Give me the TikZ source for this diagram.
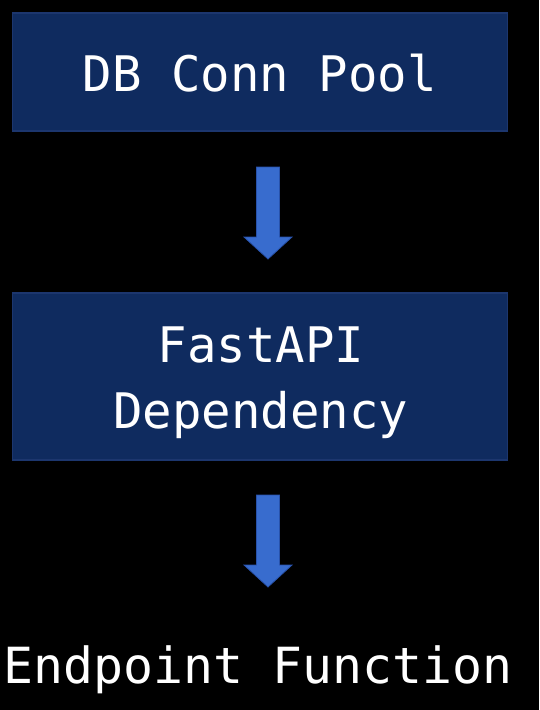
\documentclass[tikz,border=0pt]{standalone}
\usepackage{fontspec}
\setmonofont{DejaVu Sans Mono}
\definecolor{boxfill}{RGB}{15,43,95}
\definecolor{boxline}{RGB}{28,54,110}
\definecolor{arrfill}{RGB}{56,108,206}
\definecolor{arrline}{RGB}{40,82,170}
\begin{document}
\begin{tikzpicture}[x=1pt,y=-1pt,
  blockbox/.style={draw=boxline,line width=1.5pt,fill=boxfill,minimum width=495pt,minimum height=118pt,inner sep=0pt},
  lbl/.style={text=white,font=\ttfamily\fontsize{49}{66}\selectfont,anchor=base,inner sep=0pt},
  blockarrow/.style={fill=arrfill,draw=arrline,line width=0.8pt,line join=miter}]
\fill[black] (0,0) rectangle (539,710);
\useasboundingbox (0,0) rectangle (539,710);
\node[blockbox] (pool) at (260,72) {};
\node[blockbox,minimum height=167pt] (dep) at (260,376.5) {};
\node[lbl] (poolt) at (260,91) {DB Conn Pool};
\node[lbl] (dept1) at (261,362) {FastAPI};
\node[lbl] (dept2) at (261,428) {Dependency};
\node[lbl,font=\ttfamily\fontsize{49.8}{60}\selectfont] (endf) at (258,683) {Endpoint Function};
% block arrows
\path[blockarrow] (256.5,167) -- (279.5,167) -- (279.5,237) -- (292,237) -- (268,259) -- (244,237) -- (256.5,237) -- cycle;
\path[blockarrow] (256.5,495) -- (279.5,495) -- (279.5,565) -- (292,565) -- (268,587) -- (244,565) -- (256.5,565) -- cycle;
\end{tikzpicture}
\end{document}
